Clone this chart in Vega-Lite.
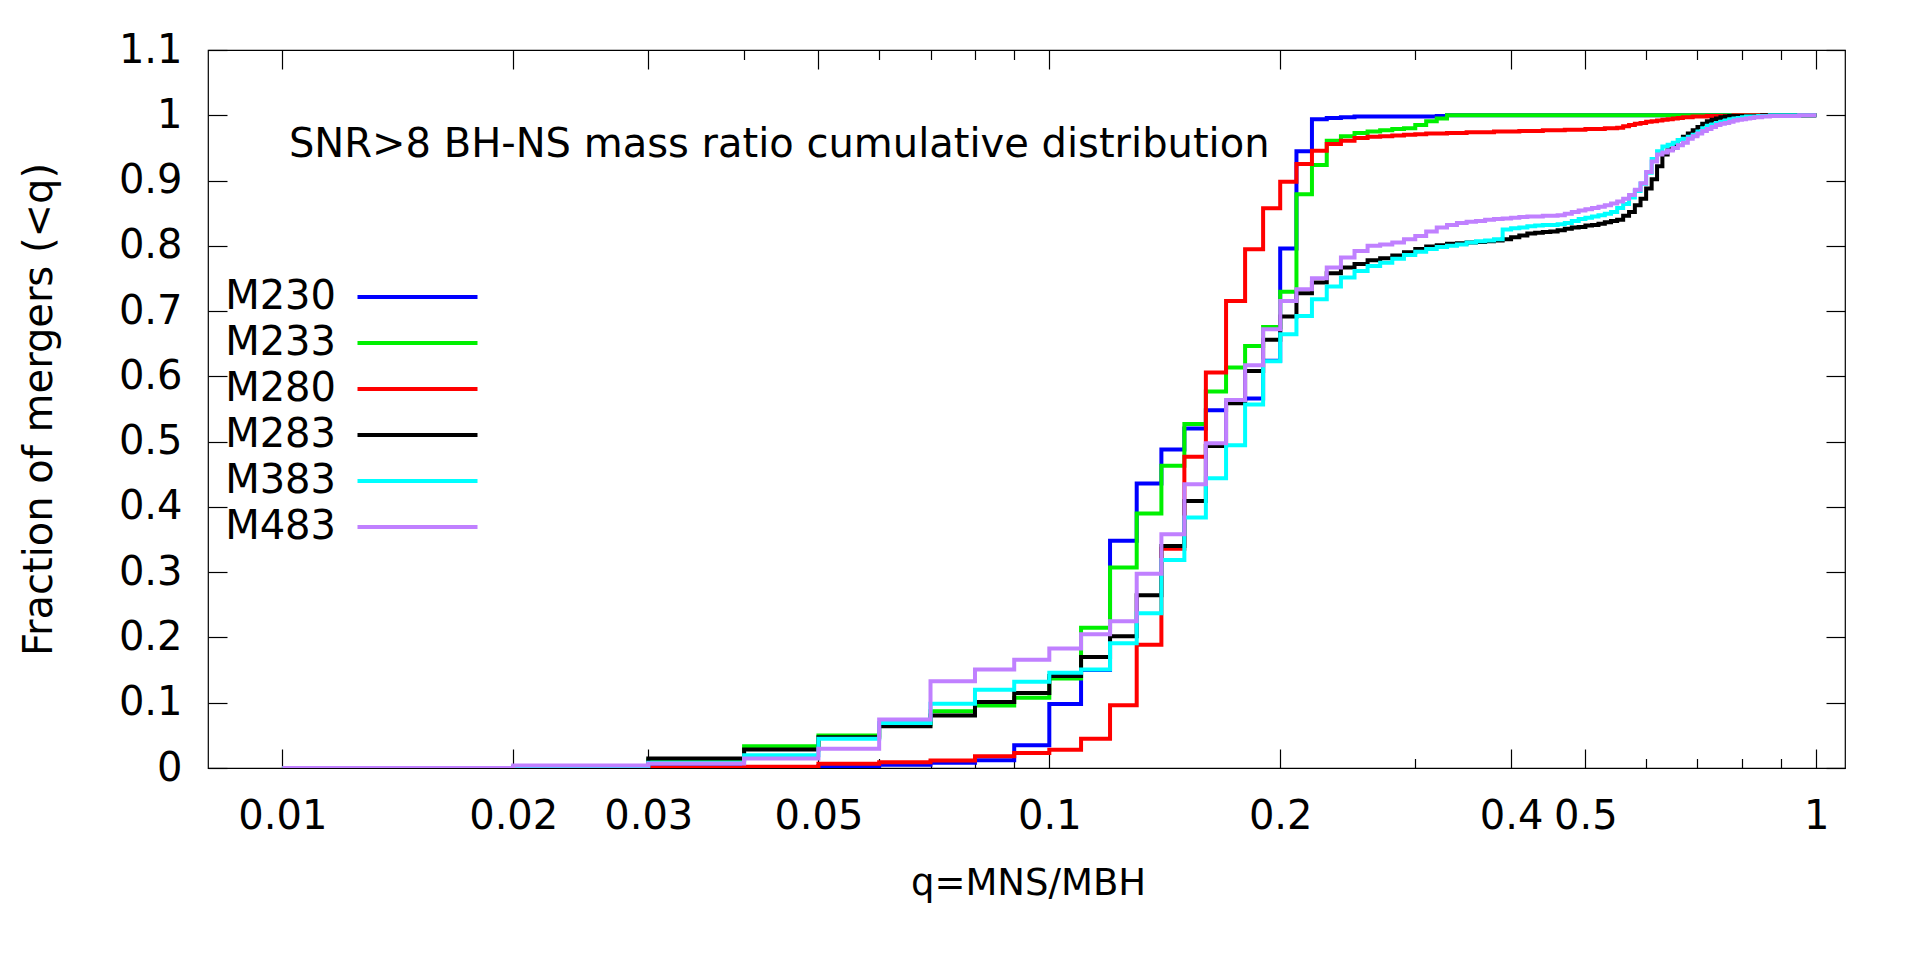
{
  "$schema": "https://vega.github.io/schema/vega-lite/v6.json",
  "autosize": {"type": "none"},
  "padding": {"left": 208, "top": 50, "right": 75, "bottom": 193},
  "width": 1637,
  "height": 718,
  "background": "white",
  "config": {
    "view": {"stroke": "black", "strokeWidth": 1.2},
    "font": "DejaVu Sans",
    "axis": {"labelFont": "DejaVu Sans", "titleFont": "DejaVu Sans", "labelColor": "black", "titleColor": "black", "titleFontWeight": "normal", "labelFlush": false, "labelOverlap": false, "grid": false, "domain": false, "tickColor": "black", "tickWidth": 1.2},
    "legend": {"labelFont": "DejaVu Sans", "labelColor": "black"}
  },
  "datasets": {
    "cdf": [
{"s":"M230","q":0.01,"f":0},{"s":"M230","q":0.02,"f":0.0005},{"s":"M230","q":0.03,"f":0.001},{"s":"M230","q":0.04,"f":0.001},{"s":"M230","q":0.05,"f":0.003},{"s":"M230","q":0.06,"f":0.005},{"s":"M230","q":0.07,"f":0.008},{"s":"M230","q":0.08,"f":0.012},{"s":"M230","q":0.09,"f":0.035},{"s":"M230","q":0.1,"f":0.098},
{"s":"M230","q":0.11,"f":0.15},{"s":"M230","q":0.12,"f":0.348},{"s":"M230","q":0.13,"f":0.436},{"s":"M230","q":0.14,"f":0.488},{"s":"M230","q":0.15,"f":0.52},{"s":"M230","q":0.16,"f":0.548},{"s":"M230","q":0.17,"f":0.56},{"s":"M230","q":0.18,"f":0.566},{"s":"M230","q":0.19,"f":0.624},{"s":"M230","q":0.2,"f":0.796},
{"s":"M230","q":0.21,"f":0.945},{"s":"M230","q":0.22,"f":0.994},{"s":"M230","q":0.23,"f":0.996},{"s":"M230","q":0.24,"f":0.997},{"s":"M230","q":0.25,"f":0.998},{"s":"M230","q":0.26,"f":0.998},{"s":"M230","q":0.27,"f":0.998},{"s":"M230","q":0.28,"f":0.998},{"s":"M230","q":0.29,"f":0.998},{"s":"M230","q":0.3,"f":0.998},
{"s":"M230","q":0.31,"f":0.998},{"s":"M230","q":0.32,"f":0.999},{"s":"M230","q":0.33,"f":1},{"s":"M230","q":0.34,"f":1},{"s":"M230","q":0.35,"f":1},{"s":"M230","q":0.36,"f":1},{"s":"M230","q":0.37,"f":1},{"s":"M230","q":0.38,"f":1},{"s":"M230","q":0.39,"f":1},{"s":"M230","q":0.4,"f":1},
{"s":"M230","q":0.41,"f":1},{"s":"M230","q":0.42,"f":1},{"s":"M230","q":0.43,"f":1},{"s":"M230","q":0.44,"f":1},{"s":"M230","q":0.45,"f":1},{"s":"M230","q":0.46,"f":1},{"s":"M230","q":0.47,"f":1},{"s":"M230","q":0.48,"f":1},{"s":"M230","q":0.49,"f":1},{"s":"M230","q":0.5,"f":1},
{"s":"M230","q":0.51,"f":1},{"s":"M230","q":0.52,"f":1},{"s":"M230","q":0.53,"f":1},{"s":"M230","q":0.54,"f":1},{"s":"M230","q":0.55,"f":1},{"s":"M230","q":0.56,"f":1},{"s":"M230","q":0.57,"f":1},{"s":"M230","q":0.58,"f":1},{"s":"M230","q":0.59,"f":1},{"s":"M230","q":0.6,"f":1},
{"s":"M230","q":0.61,"f":1},{"s":"M230","q":0.62,"f":1},{"s":"M230","q":0.63,"f":1},{"s":"M230","q":0.64,"f":1},{"s":"M230","q":0.65,"f":1},{"s":"M230","q":0.66,"f":1},{"s":"M230","q":0.67,"f":1},{"s":"M230","q":0.68,"f":1},{"s":"M230","q":0.69,"f":1},{"s":"M230","q":0.7,"f":1},
{"s":"M230","q":0.71,"f":1},{"s":"M230","q":0.72,"f":1},{"s":"M230","q":0.73,"f":1},{"s":"M230","q":0.74,"f":1},{"s":"M230","q":0.75,"f":1},{"s":"M230","q":0.76,"f":1},{"s":"M230","q":0.77,"f":1},{"s":"M230","q":0.78,"f":1},{"s":"M230","q":0.79,"f":1},{"s":"M230","q":0.8,"f":1},
{"s":"M230","q":0.81,"f":1},{"s":"M230","q":0.82,"f":1},{"s":"M230","q":0.83,"f":1},{"s":"M230","q":0.84,"f":1},{"s":"M230","q":0.85,"f":1},{"s":"M230","q":0.86,"f":1},{"s":"M230","q":0.87,"f":1},{"s":"M230","q":0.88,"f":1},{"s":"M230","q":0.89,"f":1},{"s":"M230","q":0.9,"f":1},
{"s":"M230","q":0.91,"f":1},{"s":"M230","q":0.92,"f":1},{"s":"M230","q":0.93,"f":1},{"s":"M230","q":0.94,"f":1},{"s":"M230","q":0.95,"f":1},{"s":"M230","q":0.96,"f":1},{"s":"M230","q":0.97,"f":1},{"s":"M230","q":0.98,"f":1},{"s":"M230","q":0.99,"f":1},{"s":"M230","q":1,"f":1},

{"s":"M233","q":0.01,"f":0},{"s":"M233","q":0.02,"f":0.001},{"s":"M233","q":0.03,"f":0.012},{"s":"M233","q":0.04,"f":0.0334},{"s":"M233","q":0.05,"f":0.0498},{"s":"M233","q":0.06,"f":0.067},{"s":"M233","q":0.07,"f":0.087},{"s":"M233","q":0.08,"f":0.0958},{"s":"M233","q":0.09,"f":0.1076},{"s":"M233","q":0.1,"f":0.137},
{"s":"M233","q":0.11,"f":0.215},{"s":"M233","q":0.12,"f":0.307},{"s":"M233","q":0.13,"f":0.39},{"s":"M233","q":0.14,"f":0.463},{"s":"M233","q":0.15,"f":0.527},{"s":"M233","q":0.16,"f":0.577},{"s":"M233","q":0.17,"f":0.6135},{"s":"M233","q":0.18,"f":0.6467},{"s":"M233","q":0.19,"f":0.6758},{"s":"M233","q":0.2,"f":0.7295},
{"s":"M233","q":0.21,"f":0.879},{"s":"M233","q":0.22,"f":0.924},{"s":"M233","q":0.23,"f":0.961},{"s":"M233","q":0.24,"f":0.968},{"s":"M233","q":0.25,"f":0.973},{"s":"M233","q":0.26,"f":0.975},{"s":"M233","q":0.27,"f":0.977},{"s":"M233","q":0.28,"f":0.979},{"s":"M233","q":0.29,"f":0.98},{"s":"M233","q":0.3,"f":0.985},
{"s":"M233","q":0.31,"f":0.991},{"s":"M233","q":0.32,"f":0.995},{"s":"M233","q":0.33,"f":1},{"s":"M233","q":0.34,"f":1},{"s":"M233","q":0.35,"f":1},{"s":"M233","q":0.36,"f":1},{"s":"M233","q":0.37,"f":1},{"s":"M233","q":0.38,"f":1},{"s":"M233","q":0.39,"f":1},{"s":"M233","q":0.4,"f":1},
{"s":"M233","q":0.41,"f":1},{"s":"M233","q":0.42,"f":1},{"s":"M233","q":0.43,"f":1},{"s":"M233","q":0.44,"f":1},{"s":"M233","q":0.45,"f":1},{"s":"M233","q":0.46,"f":1},{"s":"M233","q":0.47,"f":1},{"s":"M233","q":0.48,"f":1},{"s":"M233","q":0.49,"f":1},{"s":"M233","q":0.5,"f":1},
{"s":"M233","q":0.51,"f":1},{"s":"M233","q":0.52,"f":1},{"s":"M233","q":0.53,"f":1},{"s":"M233","q":0.54,"f":1},{"s":"M233","q":0.55,"f":1},{"s":"M233","q":0.56,"f":1},{"s":"M233","q":0.57,"f":1},{"s":"M233","q":0.58,"f":1},{"s":"M233","q":0.59,"f":1},{"s":"M233","q":0.6,"f":1},
{"s":"M233","q":0.61,"f":1},{"s":"M233","q":0.62,"f":1},{"s":"M233","q":0.63,"f":1},{"s":"M233","q":0.64,"f":1},{"s":"M233","q":0.65,"f":1},{"s":"M233","q":0.66,"f":1},{"s":"M233","q":0.67,"f":1},{"s":"M233","q":0.68,"f":1},{"s":"M233","q":0.69,"f":1},{"s":"M233","q":0.7,"f":1},
{"s":"M233","q":0.71,"f":1},{"s":"M233","q":0.72,"f":1},{"s":"M233","q":0.73,"f":1},{"s":"M233","q":0.74,"f":1},{"s":"M233","q":0.75,"f":1},{"s":"M233","q":0.76,"f":1},{"s":"M233","q":0.77,"f":1},{"s":"M233","q":0.78,"f":1},{"s":"M233","q":0.79,"f":1},{"s":"M233","q":0.8,"f":1},
{"s":"M233","q":0.81,"f":1},{"s":"M233","q":0.82,"f":1},{"s":"M233","q":0.83,"f":1},{"s":"M233","q":0.84,"f":1},{"s":"M233","q":0.85,"f":1},{"s":"M233","q":0.86,"f":1},{"s":"M233","q":0.87,"f":1},{"s":"M233","q":0.88,"f":1},{"s":"M233","q":0.89,"f":1},{"s":"M233","q":0.9,"f":1},
{"s":"M233","q":0.91,"f":1},{"s":"M233","q":0.92,"f":1},{"s":"M233","q":0.93,"f":1},{"s":"M233","q":0.94,"f":1},{"s":"M233","q":0.95,"f":1},{"s":"M233","q":0.96,"f":1},{"s":"M233","q":0.97,"f":1},{"s":"M233","q":0.98,"f":1},{"s":"M233","q":0.99,"f":1},{"s":"M233","q":1,"f":1},

{"s":"M280","q":0.01,"f":0},{"s":"M280","q":0.02,"f":0},{"s":"M280","q":0.03,"f":0.0005},{"s":"M280","q":0.04,"f":0.002},{"s":"M280","q":0.05,"f":0.0064},{"s":"M280","q":0.06,"f":0.0089},{"s":"M280","q":0.07,"f":0.0115},{"s":"M280","q":0.08,"f":0.018},{"s":"M280","q":0.09,"f":0.023},{"s":"M280","q":0.1,"f":0.028},
{"s":"M280","q":0.11,"f":0.0448},{"s":"M280","q":0.12,"f":0.0963},{"s":"M280","q":0.13,"f":0.189},{"s":"M280","q":0.14,"f":0.336},{"s":"M280","q":0.15,"f":0.477},{"s":"M280","q":0.16,"f":0.606},{"s":"M280","q":0.17,"f":0.7156},{"s":"M280","q":0.18,"f":0.7949},{"s":"M280","q":0.19,"f":0.8577},{"s":"M280","q":0.2,"f":0.898},
{"s":"M280","q":0.21,"f":0.9252},{"s":"M280","q":0.22,"f":0.9456},{"s":"M280","q":0.23,"f":0.956},{"s":"M280","q":0.24,"f":0.961},{"s":"M280","q":0.25,"f":0.965},{"s":"M280","q":0.26,"f":0.967},{"s":"M280","q":0.27,"f":0.968},{"s":"M280","q":0.28,"f":0.969},{"s":"M280","q":0.29,"f":0.97},{"s":"M280","q":0.3,"f":0.971},
{"s":"M280","q":0.31,"f":0.972},{"s":"M280","q":0.32,"f":0.972},{"s":"M280","q":0.33,"f":0.973},{"s":"M280","q":0.34,"f":0.973},{"s":"M280","q":0.35,"f":0.974},{"s":"M280","q":0.36,"f":0.974},{"s":"M280","q":0.37,"f":0.974},{"s":"M280","q":0.38,"f":0.975},{"s":"M280","q":0.39,"f":0.975},{"s":"M280","q":0.4,"f":0.975},
{"s":"M280","q":0.41,"f":0.976},{"s":"M280","q":0.42,"f":0.976},{"s":"M280","q":0.43,"f":0.976},{"s":"M280","q":0.44,"f":0.977},{"s":"M280","q":0.45,"f":0.977},{"s":"M280","q":0.46,"f":0.977},{"s":"M280","q":0.47,"f":0.978},{"s":"M280","q":0.48,"f":0.978},{"s":"M280","q":0.49,"f":0.978},{"s":"M280","q":0.5,"f":0.979},
{"s":"M280","q":0.51,"f":0.979},{"s":"M280","q":0.52,"f":0.979},{"s":"M280","q":0.53,"f":0.98},{"s":"M280","q":0.54,"f":0.98},{"s":"M280","q":0.55,"f":0.981},{"s":"M280","q":0.56,"f":0.983},{"s":"M280","q":0.57,"f":0.985},{"s":"M280","q":0.58,"f":0.987},{"s":"M280","q":0.59,"f":0.988},{"s":"M280","q":0.6,"f":0.99},
{"s":"M280","q":0.61,"f":0.991},{"s":"M280","q":0.62,"f":0.992},{"s":"M280","q":0.63,"f":0.993},{"s":"M280","q":0.64,"f":0.994},{"s":"M280","q":0.65,"f":0.995},{"s":"M280","q":0.66,"f":0.996},{"s":"M280","q":0.67,"f":0.997},{"s":"M280","q":0.68,"f":0.997},{"s":"M280","q":0.69,"f":0.998},{"s":"M280","q":0.7,"f":0.998},
{"s":"M280","q":0.71,"f":0.998},{"s":"M280","q":0.72,"f":0.999},{"s":"M280","q":0.73,"f":0.999},{"s":"M280","q":0.74,"f":0.999},{"s":"M280","q":0.75,"f":0.999},{"s":"M280","q":0.76,"f":0.999},{"s":"M280","q":0.77,"f":0.999},{"s":"M280","q":0.78,"f":1},{"s":"M280","q":0.79,"f":1},{"s":"M280","q":0.8,"f":1},
{"s":"M280","q":0.81,"f":1},{"s":"M280","q":0.82,"f":1},{"s":"M280","q":0.83,"f":1},{"s":"M280","q":0.84,"f":1},{"s":"M280","q":0.85,"f":1},{"s":"M280","q":0.86,"f":1},{"s":"M280","q":0.87,"f":1},{"s":"M280","q":0.88,"f":1},{"s":"M280","q":0.89,"f":1},{"s":"M280","q":0.9,"f":1},
{"s":"M280","q":0.91,"f":1},{"s":"M280","q":0.92,"f":1},{"s":"M280","q":0.93,"f":1},{"s":"M280","q":0.94,"f":1},{"s":"M280","q":0.95,"f":1},{"s":"M280","q":0.96,"f":1},{"s":"M280","q":0.97,"f":1},{"s":"M280","q":0.98,"f":1},{"s":"M280","q":0.99,"f":1},{"s":"M280","q":1,"f":1},

{"s":"M283","q":0.01,"f":0},{"s":"M283","q":0.02,"f":0.001},{"s":"M283","q":0.03,"f":0.0146},{"s":"M283","q":0.04,"f":0.0284},{"s":"M283","q":0.05,"f":0.047},{"s":"M283","q":0.06,"f":0.064},{"s":"M283","q":0.07,"f":0.0805},{"s":"M283","q":0.08,"f":0.101},{"s":"M283","q":0.09,"f":0.115},{"s":"M283","q":0.1,"f":0.141},
{"s":"M283","q":0.11,"f":0.17},{"s":"M283","q":0.12,"f":0.202},{"s":"M283","q":0.13,"f":0.2645},{"s":"M283","q":0.14,"f":0.34},{"s":"M283","q":0.15,"f":0.409},{"s":"M283","q":0.16,"f":0.4933},{"s":"M283","q":0.17,"f":0.5588},{"s":"M283","q":0.18,"f":0.6083},{"s":"M283","q":0.19,"f":0.656},{"s":"M283","q":0.2,"f":0.6917},
{"s":"M283","q":0.21,"f":0.7274},{"s":"M283","q":0.22,"f":0.7438},{"s":"M283","q":0.23,"f":0.758},{"s":"M283","q":0.24,"f":0.7668},{"s":"M283","q":0.25,"f":0.772},{"s":"M283","q":0.26,"f":0.778},{"s":"M283","q":0.27,"f":0.781},{"s":"M283","q":0.28,"f":0.785},{"s":"M283","q":0.29,"f":0.79},{"s":"M283","q":0.3,"f":0.795},
{"s":"M283","q":0.31,"f":0.799},{"s":"M283","q":0.32,"f":0.801},{"s":"M283","q":0.33,"f":0.803},{"s":"M283","q":0.34,"f":0.804},{"s":"M283","q":0.35,"f":0.805},{"s":"M283","q":0.36,"f":0.806},{"s":"M283","q":0.37,"f":0.807},{"s":"M283","q":0.38,"f":0.808},{"s":"M283","q":0.39,"f":0.81},{"s":"M283","q":0.4,"f":0.813},
{"s":"M283","q":0.41,"f":0.816},{"s":"M283","q":0.42,"f":0.819},{"s":"M283","q":0.43,"f":0.82},{"s":"M283","q":0.44,"f":0.821},{"s":"M283","q":0.45,"f":0.822},{"s":"M283","q":0.46,"f":0.824},{"s":"M283","q":0.47,"f":0.826},{"s":"M283","q":0.48,"f":0.828},{"s":"M283","q":0.49,"f":0.829},{"s":"M283","q":0.5,"f":0.831},
{"s":"M283","q":0.51,"f":0.832},{"s":"M283","q":0.52,"f":0.834},{"s":"M283","q":0.53,"f":0.836},{"s":"M283","q":0.54,"f":0.838},{"s":"M283","q":0.55,"f":0.84},{"s":"M283","q":0.56,"f":0.846},{"s":"M283","q":0.57,"f":0.852},{"s":"M283","q":0.58,"f":0.862},{"s":"M283","q":0.59,"f":0.872},{"s":"M283","q":0.6,"f":0.888},
{"s":"M283","q":0.61,"f":0.902},{"s":"M283","q":0.62,"f":0.922},{"s":"M283","q":0.63,"f":0.94},{"s":"M283","q":0.64,"f":0.948},{"s":"M283","q":0.65,"f":0.955},{"s":"M283","q":0.66,"f":0.962},{"s":"M283","q":0.67,"f":0.967},{"s":"M283","q":0.68,"f":0.972},{"s":"M283","q":0.69,"f":0.977},{"s":"M283","q":0.7,"f":0.982},
{"s":"M283","q":0.71,"f":0.987},{"s":"M283","q":0.72,"f":0.991},{"s":"M283","q":0.73,"f":0.993},{"s":"M283","q":0.74,"f":0.995},{"s":"M283","q":0.75,"f":0.997},{"s":"M283","q":0.76,"f":0.998},{"s":"M283","q":0.77,"f":0.999},{"s":"M283","q":0.78,"f":0.999},{"s":"M283","q":0.79,"f":0.999},{"s":"M283","q":0.8,"f":0.999},
{"s":"M283","q":0.81,"f":0.999},{"s":"M283","q":0.82,"f":0.999},{"s":"M283","q":0.83,"f":0.999},{"s":"M283","q":0.84,"f":0.999},{"s":"M283","q":0.85,"f":1},{"s":"M283","q":0.86,"f":1},{"s":"M283","q":0.87,"f":1},{"s":"M283","q":0.88,"f":1},{"s":"M283","q":0.89,"f":1},{"s":"M283","q":0.9,"f":1},
{"s":"M283","q":0.91,"f":1},{"s":"M283","q":0.92,"f":1},{"s":"M283","q":0.93,"f":1},{"s":"M283","q":0.94,"f":1},{"s":"M283","q":0.95,"f":1},{"s":"M283","q":0.96,"f":1},{"s":"M283","q":0.97,"f":1},{"s":"M283","q":0.98,"f":1},{"s":"M283","q":0.99,"f":1},{"s":"M283","q":1,"f":1},

{"s":"M383","q":0.01,"f":0},{"s":"M383","q":0.02,"f":0.001},{"s":"M383","q":0.03,"f":0.008},{"s":"M383","q":0.04,"f":0.0197},{"s":"M383","q":0.05,"f":0.0447},{"s":"M383","q":0.06,"f":0.069},{"s":"M383","q":0.07,"f":0.0984},{"s":"M383","q":0.08,"f":0.12},{"s":"M383","q":0.09,"f":0.132},{"s":"M383","q":0.1,"f":0.146},
{"s":"M383","q":0.11,"f":0.151},{"s":"M383","q":0.12,"f":0.191},{"s":"M383","q":0.13,"f":0.2369},{"s":"M383","q":0.14,"f":0.3186},{"s":"M383","q":0.15,"f":0.3836},{"s":"M383","q":0.16,"f":0.4438},{"s":"M383","q":0.17,"f":0.4944},{"s":"M383","q":0.18,"f":0.557},{"s":"M383","q":0.19,"f":0.623},{"s":"M383","q":0.2,"f":0.6646},
{"s":"M383","q":0.21,"f":0.6926},{"s":"M383","q":0.22,"f":0.7182},{"s":"M383","q":0.23,"f":0.7377},{"s":"M383","q":0.24,"f":0.7515},{"s":"M383","q":0.25,"f":0.7616},{"s":"M383","q":0.26,"f":0.769},{"s":"M383","q":0.27,"f":0.774},{"s":"M383","q":0.28,"f":0.78},{"s":"M383","q":0.29,"f":0.786},{"s":"M383","q":0.3,"f":0.791},
{"s":"M383","q":0.31,"f":0.795},{"s":"M383","q":0.32,"f":0.798},{"s":"M383","q":0.33,"f":0.8},{"s":"M383","q":0.34,"f":0.802},{"s":"M383","q":0.35,"f":0.805},{"s":"M383","q":0.36,"f":0.807},{"s":"M383","q":0.37,"f":0.808},{"s":"M383","q":0.38,"f":0.81},{"s":"M383","q":0.39,"f":0.825},{"s":"M383","q":0.4,"f":0.827},
{"s":"M383","q":0.41,"f":0.828},{"s":"M383","q":0.42,"f":0.83},{"s":"M383","q":0.43,"f":0.831},{"s":"M383","q":0.44,"f":0.832},{"s":"M383","q":0.45,"f":0.832},{"s":"M383","q":0.46,"f":0.833},{"s":"M383","q":0.47,"f":0.835},{"s":"M383","q":0.48,"f":0.838},{"s":"M383","q":0.49,"f":0.841},{"s":"M383","q":0.5,"f":0.843},
{"s":"M383","q":0.51,"f":0.845},{"s":"M383","q":0.52,"f":0.847},{"s":"M383","q":0.53,"f":0.849},{"s":"M383","q":0.54,"f":0.852},{"s":"M383","q":0.55,"f":0.858},{"s":"M383","q":0.56,"f":0.864},{"s":"M383","q":0.57,"f":0.874},{"s":"M383","q":0.58,"f":0.884},{"s":"M383","q":0.59,"f":0.895},{"s":"M383","q":0.6,"f":0.912},
{"s":"M383","q":0.61,"f":0.933},{"s":"M383","q":0.62,"f":0.945},{"s":"M383","q":0.63,"f":0.952},{"s":"M383","q":0.64,"f":0.955},{"s":"M383","q":0.65,"f":0.958},{"s":"M383","q":0.66,"f":0.962},{"s":"M383","q":0.67,"f":0.964},{"s":"M383","q":0.68,"f":0.967},{"s":"M383","q":0.69,"f":0.97},{"s":"M383","q":0.7,"f":0.975},
{"s":"M383","q":0.71,"f":0.98},{"s":"M383","q":0.72,"f":0.984},{"s":"M383","q":0.73,"f":0.986},{"s":"M383","q":0.74,"f":0.988},{"s":"M383","q":0.75,"f":0.99},{"s":"M383","q":0.76,"f":0.992},{"s":"M383","q":0.77,"f":0.994},{"s":"M383","q":0.78,"f":0.995},{"s":"M383","q":0.79,"f":0.996},{"s":"M383","q":0.8,"f":0.997},
{"s":"M383","q":0.81,"f":0.998},{"s":"M383","q":0.82,"f":0.998},{"s":"M383","q":0.83,"f":0.998},{"s":"M383","q":0.84,"f":0.999},{"s":"M383","q":0.85,"f":0.999},{"s":"M383","q":0.86,"f":0.999},{"s":"M383","q":0.87,"f":1},{"s":"M383","q":0.88,"f":1},{"s":"M383","q":0.89,"f":1},{"s":"M383","q":0.9,"f":1},
{"s":"M383","q":0.91,"f":1},{"s":"M383","q":0.92,"f":1},{"s":"M383","q":0.93,"f":1},{"s":"M383","q":0.94,"f":1},{"s":"M383","q":0.95,"f":1},{"s":"M383","q":0.96,"f":1},{"s":"M383","q":0.97,"f":1},{"s":"M383","q":0.98,"f":1},{"s":"M383","q":0.99,"f":1},{"s":"M383","q":1,"f":1},

{"s":"M483","q":0.01,"f":0},{"s":"M483","q":0.02,"f":0.004},{"s":"M483","q":0.03,"f":0.007},{"s":"M483","q":0.04,"f":0.0146},{"s":"M483","q":0.05,"f":0.0294},{"s":"M483","q":0.06,"f":0.0743},{"s":"M483","q":0.07,"f":0.133},{"s":"M483","q":0.08,"f":0.151},{"s":"M483","q":0.09,"f":0.166},{"s":"M483","q":0.1,"f":0.183},
{"s":"M483","q":0.11,"f":0.205},{"s":"M483","q":0.12,"f":0.225},{"s":"M483","q":0.13,"f":0.2977},{"s":"M483","q":0.14,"f":0.358},{"s":"M483","q":0.15,"f":0.4346},{"s":"M483","q":0.16,"f":0.4975},{"s":"M483","q":0.17,"f":0.5639},{"s":"M483","q":0.18,"f":0.617},{"s":"M483","q":0.19,"f":0.6722},{"s":"M483","q":0.2,"f":0.7156},
{"s":"M483","q":0.21,"f":0.7335},{"s":"M483","q":0.22,"f":0.7504},{"s":"M483","q":0.23,"f":0.7668},{"s":"M483","q":0.24,"f":0.782},{"s":"M483","q":0.25,"f":0.792},{"s":"M483","q":0.26,"f":0.8},{"s":"M483","q":0.27,"f":0.802},{"s":"M483","q":0.28,"f":0.805},{"s":"M483","q":0.29,"f":0.81},{"s":"M483","q":0.3,"f":0.815},
{"s":"M483","q":0.31,"f":0.822},{"s":"M483","q":0.32,"f":0.828},{"s":"M483","q":0.33,"f":0.832},{"s":"M483","q":0.34,"f":0.835},{"s":"M483","q":0.35,"f":0.837},{"s":"M483","q":0.36,"f":0.838},{"s":"M483","q":0.37,"f":0.84},{"s":"M483","q":0.38,"f":0.841},{"s":"M483","q":0.39,"f":0.842},{"s":"M483","q":0.4,"f":0.843},
{"s":"M483","q":0.41,"f":0.844},{"s":"M483","q":0.42,"f":0.845},{"s":"M483","q":0.43,"f":0.845},{"s":"M483","q":0.44,"f":0.846},{"s":"M483","q":0.45,"f":0.846},{"s":"M483","q":0.46,"f":0.847},{"s":"M483","q":0.47,"f":0.849},{"s":"M483","q":0.48,"f":0.852},{"s":"M483","q":0.49,"f":0.854},{"s":"M483","q":0.5,"f":0.856},
{"s":"M483","q":0.51,"f":0.858},{"s":"M483","q":0.52,"f":0.86},{"s":"M483","q":0.53,"f":0.862},{"s":"M483","q":0.54,"f":0.865},{"s":"M483","q":0.55,"f":0.868},{"s":"M483","q":0.56,"f":0.872},{"s":"M483","q":0.57,"f":0.878},{"s":"M483","q":0.58,"f":0.886},{"s":"M483","q":0.59,"f":0.896},{"s":"M483","q":0.6,"f":0.913},
{"s":"M483","q":0.61,"f":0.929},{"s":"M483","q":0.62,"f":0.94},{"s":"M483","q":0.63,"f":0.943},{"s":"M483","q":0.64,"f":0.946},{"s":"M483","q":0.65,"f":0.95},{"s":"M483","q":0.66,"f":0.954},{"s":"M483","q":0.67,"f":0.958},{"s":"M483","q":0.68,"f":0.964},{"s":"M483","q":0.69,"f":0.968},{"s":"M483","q":0.7,"f":0.972},
{"s":"M483","q":0.71,"f":0.976},{"s":"M483","q":0.72,"f":0.979},{"s":"M483","q":0.73,"f":0.982},{"s":"M483","q":0.74,"f":0.985},{"s":"M483","q":0.75,"f":0.987},{"s":"M483","q":0.76,"f":0.988},{"s":"M483","q":0.77,"f":0.99},{"s":"M483","q":0.78,"f":0.992},{"s":"M483","q":0.79,"f":0.993},{"s":"M483","q":0.8,"f":0.994},
{"s":"M483","q":0.81,"f":0.995},{"s":"M483","q":0.82,"f":0.996},{"s":"M483","q":0.83,"f":0.997},{"s":"M483","q":0.84,"f":0.997},{"s":"M483","q":0.85,"f":0.998},{"s":"M483","q":0.86,"f":0.998},{"s":"M483","q":0.87,"f":0.999},{"s":"M483","q":0.88,"f":0.999},{"s":"M483","q":0.89,"f":0.999},{"s":"M483","q":0.9,"f":0.999},
{"s":"M483","q":0.91,"f":0.999},{"s":"M483","q":0.92,"f":0.999},{"s":"M483","q":0.93,"f":0.999},{"s":"M483","q":0.94,"f":0.999},{"s":"M483","q":0.95,"f":1},{"s":"M483","q":0.96,"f":1},{"s":"M483","q":0.97,"f":1},{"s":"M483","q":0.98,"f":1},{"s":"M483","q":0.99,"f":1},{"s":"M483","q":1,"f":1}
    ],
    "note": [{"label": "SNR>8 BH-NS mass ratio cumulative distribution"}]
  },
  "resolve": {"axis": {"x": "independent", "y": "independent"}},
  "layer": [
    {
      "data": {"name": "cdf"},
      "mark": {"type": "line", "interpolate": "step-after", "strokeWidth": 4, "strokeJoin": "miter", "strokeCap": "butt", "clip": true},
      "encoding": {
        "x": {"field": "q", "type": "quantitative", "scale": {"type": "log", "domain": [0.008, 1.09], "nice": false},
          "axis": {"orient": "bottom", "values": [0.01, 0.02, 0.03, 0.05, 0.1, 0.2, 0.4, 0.5, 1], "format": "~g", "ticks": false, "labelPadding": 28, "labelDx": 6, "labelFontSize": 40,
            "title": "q=MNS/MBH", "titleFontSize": 37, "titleX": 820, "titleY": 115, "titleBaseline": "middle", "titleAlign": "center"}},
        "y": {"field": "f", "type": "quantitative", "scale": {"domain": [0, 1.1], "nice": false, "zero": false},
          "axis": {"orient": "left", "values": [0, 0.1, 0.2, 0.3, 0.4, 0.5, 0.6, 0.7, 0.8, 0.9, 1, 1.1], "format": "~g", "ticks": false, "labelPadding": 26, "labelFontSize": 40,
            "title": "Fraction of mergers (<q)", "titleFontSize": 40, "titleX": -169, "titleY": 359, "titleAngle": -90, "titleBaseline": "middle", "titleAlign": "center"}},
        "color": {"field": "s", "type": "nominal",
          "scale": {"domain": ["M230", "M233", "M280", "M283", "M383", "M483"], "range": ["#0000ff", "#00f000", "#ff0000", "#000000", "#00ffff", "#c080ff"]},
          "legend": {"orient": "none", "legendX": 189.5, "legendY": 227, "title": null, "padding": 0, "symbolType": "M-4,0H4", "symbolSize": 900, "symbolStrokeWidth": 4, "symbolFillColor": "transparent", "labelFontSize": 40, "labelAlign": "right", "labelOffset": -101.5, "rowPadding": 6, "labelLimit": 0}}
      }
    },
    {
      "data": {"name": "note"},
      "mark": {"type": "text", "align": "left", "baseline": "alphabetic", "fontSize": 40, "font": "DejaVu Sans", "color": "black"},
      "encoding": {
        "x": {"datum": 0.0102, "type": "quantitative", "scale": {"type": "log", "domain": [0.008, 1.09], "nice": false}, "axis": null},
        "y": {"datum": 0.936, "type": "quantitative", "scale": {"domain": [0, 1.1], "nice": false, "zero": false}, "axis": null},
        "text": {"field": "label"}
      }
    },
    {
      "data": {"values": []},
      "mark": "point",
      "encoding": {
        "x": {"field": "q", "type": "quantitative", "scale": {"type": "log", "domain": [0.008, 1.09], "nice": false},
          "axis": {"orient": "bottom", "values": [0.01, 0.02, 0.03, 0.05, 0.1, 0.2, 0.4, 0.5, 1], "labels": false, "tickSize": -19, "title": null}},
        "y": {"field": "f", "type": "quantitative", "scale": {"domain": [0, 1.1], "nice": false, "zero": false},
          "axis": {"orient": "left", "values": [0, 0.1, 0.2, 0.3, 0.4, 0.5, 0.6, 0.7, 0.8, 0.9, 1, 1.1], "labels": false, "tickSize": -19, "title": null}}
      }
    },
    {
      "data": {"values": []},
      "mark": "point",
      "encoding": {
        "x": {"field": "q", "type": "quantitative", "scale": {"type": "log", "domain": [0.008, 1.09], "nice": false},
          "axis": {"orient": "top", "values": [0.01, 0.02, 0.03, 0.05, 0.1, 0.2, 0.4, 0.5, 1], "labels": false, "tickSize": -19, "title": null}},
        "y": {"field": "f", "type": "quantitative", "scale": {"domain": [0, 1.1], "nice": false, "zero": false},
          "axis": {"orient": "right", "values": [0, 0.1, 0.2, 0.3, 0.4, 0.5, 0.6, 0.7, 0.8, 0.9, 1, 1.1], "labels": false, "tickSize": -19, "title": null}}
      }
    },
    {
      "data": {"values": []},
      "mark": "point",
      "encoding": {
        "x": {"field": "q", "type": "quantitative", "scale": {"type": "log", "domain": [0.008, 1.09], "nice": false},
          "axis": {"orient": "bottom", "values": [0.04, 0.06, 0.07, 0.08, 0.09, 0.3, 0.6, 0.7, 0.8, 0.9], "labels": false, "tickSize": -9.5, "title": null}},
        "y": {"field": "f", "type": "quantitative", "scale": {"domain": [0, 1.1], "nice": false, "zero": false}, "axis": null}
      }
    },
    {
      "data": {"values": []},
      "mark": "point",
      "encoding": {
        "x": {"field": "q", "type": "quantitative", "scale": {"type": "log", "domain": [0.008, 1.09], "nice": false},
          "axis": {"orient": "top", "values": [0.04, 0.06, 0.07, 0.08, 0.09, 0.3, 0.6, 0.7, 0.8, 0.9], "labels": false, "tickSize": -9.5, "title": null}},
        "y": {"field": "f", "type": "quantitative", "scale": {"domain": [0, 1.1], "nice": false, "zero": false}, "axis": null}
      }
    }
  ]
}
